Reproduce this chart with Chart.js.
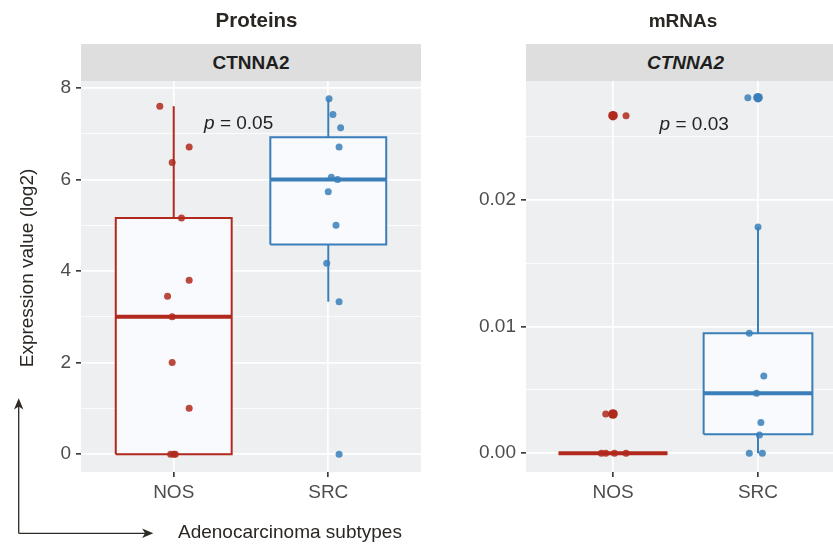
<!DOCTYPE html>
<html>
<head>
<meta charset="utf-8">
<script src="https://cdn.jsdelivr.net/npm/chart.js@4.4.1/dist/chart.umd.min.js"></script>
<style>
  html, body { margin: 0; padding: 0; background: #fff; }
  body { width: 833px; height: 546px; overflow: hidden; position: relative; font-family: "Liberation Sans", Arial, sans-serif; }
  canvas { position: absolute; top: 0; }
  #protCanvas { left: 0; }
  #mrnaCanvas { left: 421px; }
  .strip { position: absolute; top: 44px; height: 37px; line-height: 37px; background: #dedede; color: #1f1f1f;
           font-weight: bold; font-size: 19px; text-align: center; }
  #overlay { position: absolute; left: 0; top: 0; pointer-events: none; }
</style>
</head>
<body>
<canvas id="protCanvas" width="421" height="546"></canvas>
<canvas id="mrnaCanvas" width="424" height="546"></canvas>
<div class="strip" style="left:81px; width:340px;">CTNNA2</div>
<div class="strip" style="left:526px; width:319px; font-style:italic;">CTNNA2</div>
<svg id="overlay" width="833" height="546">
  <text x="256.5" y="27" text-anchor="middle" font-family="Liberation Sans, Arial" font-weight="bold" font-size="20.5" fill="#2a2622">Proteins</text>
  <text x="683" y="27" text-anchor="middle" font-family="Liberation Sans, Arial" font-weight="bold" font-size="19" fill="#2a2622">mRNAs</text>
  <text x="33" y="268" text-anchor="middle" transform="rotate(-90 33 268)" font-family="Liberation Sans, Arial" font-size="19" fill="#2a2622">Expression value (log2)</text>
  <text x="178" y="538" font-family="Liberation Sans, Arial" font-size="19" fill="#2a2622">Adenocarcinoma subtypes</text>
  <line x1="18.7" y1="533.3" x2="18.7" y2="405" stroke="#2e2a26" stroke-width="1.3"/>
  <line x1="18.7" y1="533.3" x2="147" y2="533.3" stroke="#2e2a26" stroke-width="1.3"/>
  <polygon points="18.7,398.3 14,409.5 18.7,406.5 23.4,409.5" fill="#2e2a26"/>
  <polygon points="153.3,533.3 142.1,528.6 145.1,533.3 142.1,538" fill="#2e2a26"/>
</svg>
<script>
// categories
const groups = ["NOS", "SRC"];

// tick labels
const proteinYTicks = [0, 2, 4, 6, 8];
const proteinYTickLabels = ["0", "2", "4", "6", "8"];
const proteinYMinor = [1, 3, 5, 7];
const mrnaYTicks = [0, 0.01, 0.02];
const mrnaYTickLabels = ["0.00", "0.01", "0.02"];
const mrnaYMinor = [0.005, 0.015, 0.025];

// box stats: [lower whisker, Q1, median, Q3, upper whisker]
const proteinNOSBox = [0, 0, 3.0, 5.16, 7.6];
const proteinSRCBox = [3.33, 4.58, 6.0, 6.92, 7.76];
const mrnaNOSBox = [0, 0, 0, 0, 0];
const mrnaSRCBox = [0, 0.0015, 0.00474, 0.00947, 0.01787];

// jittered samples (value + jittered x)
const proteinNOSValues = [7.6, 6.71, 6.37, 5.16, 3.8, 3.45, 3.0, 2.0, 1.0, 0, 0, 0];
const proteinNOSJitter = [0.91, 1.10, 0.99, 1.05, 1.10, 0.96, 0.99, 0.99, 1.10, 0.98, 1.0, 1.01];
const proteinSRCValues = [7.76, 7.42, 7.13, 6.71, 6.05, 6.0, 5.73, 5.0, 4.17, 3.33, 0];
const proteinSRCJitter = [2.005, 2.03, 2.08, 2.07, 2.02, 2.06, 2.0, 2.05, 1.99, 2.07, 2.07];

const mrnaNOSValues = [0.02665, 0.0031, 0, 0, 0, 0];
const mrnaNOSJitter = [1.09, 0.95, 0.92, 0.95, 1.01, 1.09];
const mrnaSRCValues = [0.02807, 0.01787, 0.00947, 0.0061, 0.00474, 0.00242, 0.00144, 0, 0];
const mrnaSRCJitter = [1.93, 2.0, 1.94, 2.04, 1.99, 2.02, 2.01, 1.94, 2.03];

// boxplot outliers
const mrnaNOSOutliers = [0.02665, 0.0031];
const mrnaSRCOutliers = [0.02807];

// p-values
const proteinP = "0.05";
const mrnaP = "0.03";

const FONT = "'Liberation Sans', Arial, sans-serif";
const RED = "#b0291c";
const BLUE = "#3a7fba";
const RED_PT = "rgba(176, 41, 28, 0.85)";
const BLUE_PT = "rgba(58, 127, 186, 0.85)";
const BOX_FILL = "#f9fafd";
const HALF = 0.375;

function boxDatasets(center, stats, color) {
    const [lo, q1, med, q3, hi] = stats;
    const line = { showLine: true, pointRadius: 0, borderColor: color, borderWidth: 2, fill: false };
    return [
        Object.assign({}, line, {
            data: [{ x: center - HALF, y: q1 }, { x: center + HALF, y: q1 }, { x: center + HALF, y: q3 },
                   { x: center - HALF, y: q3 }, { x: center - HALF, y: q1 }],
            backgroundColor: BOX_FILL, fill: "shape", borderJoinStyle: "miter", order: 3,
        }),
        Object.assign({}, line, { data: [{ x: center, y: q3 }, { x: center, y: hi }], order: 4 }),
        Object.assign({}, line, { data: [{ x: center, y: lo }, { x: center, y: q1 }], order: 4 }),
        Object.assign({}, line, {
            data: [{ x: center - HALF, y: med }, { x: center + HALF, y: med }], borderWidth: 4, order: 2,
        }),
    ];
}

function pointDataset(values, jitter, color, radius, order) {
    return {
        data: values.map((v, i) => ({ x: jitter[i], y: v })),
        showLine: false, pointRadius: radius, pointHoverRadius: radius,
        backgroundColor: color, borderWidth: 0, order: order,
    };
}

const panelBackground = {
    id: "panelBackground",
    beforeDraw(chart) {
        const a = chart.chartArea;
        const ctx = chart.ctx;
        ctx.save();
        ctx.fillStyle = "#eeeff1";
        ctx.fillRect(a.left, a.top, a.right - a.left, a.bottom - a.top);
        ctx.restore();
    },
};

const pLabel = {
    id: "pLabel",
    afterDatasetsDraw(chart, args, opts) {
        const x = chart.scales.x.getPixelForValue(opts.x);
        const y = chart.scales.y.getPixelForValue(opts.y);
        const ctx = chart.ctx;
        ctx.save();
        ctx.fillStyle = "#222";
        ctx.textBaseline = "alphabetic";
        ctx.font = "italic 19px " + FONT;
        const pW = ctx.measureText("p").width;
        ctx.font = "19px " + FONT;
        const rest = " = " + opts.text;
        const rW = ctx.measureText(rest).width;
        const x0 = x - (pW + rW) / 2;
        ctx.font = "italic 19px " + FONT;
        ctx.fillText("p", x0, y);
        ctx.font = "19px " + FONT;
        ctx.fillText(rest, x0 + pW, y);
        ctx.restore();
    },
};

function makePanel(id, cfg) {
    const ctx = document.getElementById(id);
    const datasets = [].concat(
        cfg.outliers,
        cfg.points,
        boxDatasets(1, cfg.boxes[0], RED),
        boxDatasets(2, cfg.boxes[1], BLUE)
    );
    const isMajor = (v) => cfg.majors.some((m) => Math.abs(m - v) < cfg.eps);
    return new Chart(ctx, {
        type: "scatter",
        data: { datasets: datasets },
        options: {
            responsive: false,
            animation: false,
            devicePixelRatio: 1,
            layout: { autoPadding: false, padding: { top: 81, left: 0, right: 0, bottom: 0 } },
            plugins: {
                legend: { display: false },
                tooltip: { enabled: false },
                pLabel: { x: cfg.pPos[0], y: cfg.pPos[1], text: cfg.pText },
            },
            scales: {
                x: {
                    type: "linear",
                    min: 0.4,
                    max: 2.6,
                    afterBuildTicks: (scale) => { scale.ticks = groups.map((g, i) => ({ value: i + 1 })); },
                    afterFit: (scale) => {
                        scale.height = 74;
                        scale.paddingLeft = 0;
                        scale.paddingRight = 0;
                    },
                    ticks: {
                        callback: (v) => groups[Math.round(v) - 1],
                        font: { family: FONT, size: 19 },
                        color: "#4d4d4d",
                        padding: 4,
                        autoSkip: false,
                        maxRotation: 0,
                    },
                    grid: { color: "#ffffff", lineWidth: 1.7, tickLength: 5, tickColor: "#333333", tickWidth: 1.6 },
                    border: { display: false },
                },
                y: {
                    type: "linear",
                    min: cfg.yMin,
                    max: cfg.yMax,
                    afterBuildTicks: (scale) => {
                        scale.ticks = cfg.majors.concat(cfg.minors).sort((a, b) => a - b).map((v) => ({ value: v }));
                    },
                    afterFit: (scale) => {
                        scale.width = cfg.yWidth;
                        scale.paddingTop = 0;
                        scale.paddingBottom = 0;
                    },
                    ticks: {
                        callback: (v) => {
                            const i = cfg.majors.findIndex((m) => Math.abs(m - v) < cfg.eps);
                            return i >= 0 ? cfg.labels[i] : "";
                        },
                        font: { family: FONT, size: 19 },
                        color: "#4d4d4d",
                        padding: 5,
                        autoSkip: false,
                    },
                    grid: {
                        color: "#ffffff",
                        lineWidth: (c) => (isMajor(c.tick.value) ? 1.7 : 0.8),
                        tickLength: 5,
                        tickColor: (c) => (isMajor(c.tick.value) ? "#333333" : "rgba(0,0,0,0)"),
                        tickWidth: 1.6,
                    },
                    border: { display: false },
                },
            },
        },
        plugins: [panelBackground, pLabel],
    });
}

makePanel("protCanvas", {
    yMin: -0.39, yMax: 8.15, yWidth: 81, eps: 1e-6,
    majors: proteinYTicks, labels: proteinYTickLabels, minors: proteinYMinor,
    boxes: [proteinNOSBox, proteinSRCBox],
    points: [
        pointDataset(proteinNOSValues, proteinNOSJitter, RED_PT, 3.5, 1),
        pointDataset(proteinSRCValues, proteinSRCJitter, BLUE_PT, 3.5, 1),
    ],
    outliers: [],
    pPos: [1.42, 7.1], pText: proteinP,
});

makePanel("mrnaCanvas", {
    yMin: -0.00148, yMax: 0.02939, yWidth: 105, eps: 1e-9,
    majors: mrnaYTicks, labels: mrnaYTickLabels, minors: mrnaYMinor,
    boxes: [mrnaNOSBox, mrnaSRCBox],
    points: [
        pointDataset(mrnaNOSValues, mrnaNOSJitter, RED_PT, 3.5, 1),
        pointDataset(mrnaSRCValues, mrnaSRCJitter, BLUE_PT, 3.5, 1),
    ],
    outliers: [
        pointDataset(mrnaNOSOutliers, mrnaNOSOutliers.map(() => 1), RED, 4.8, 0),
        pointDataset(mrnaSRCOutliers, mrnaSRCOutliers.map(() => 2), BLUE, 4.8, 0),
    ],
    pPos: [1.56, 0.02552], pText: mrnaP,
});
</script>
</body>
</html>
